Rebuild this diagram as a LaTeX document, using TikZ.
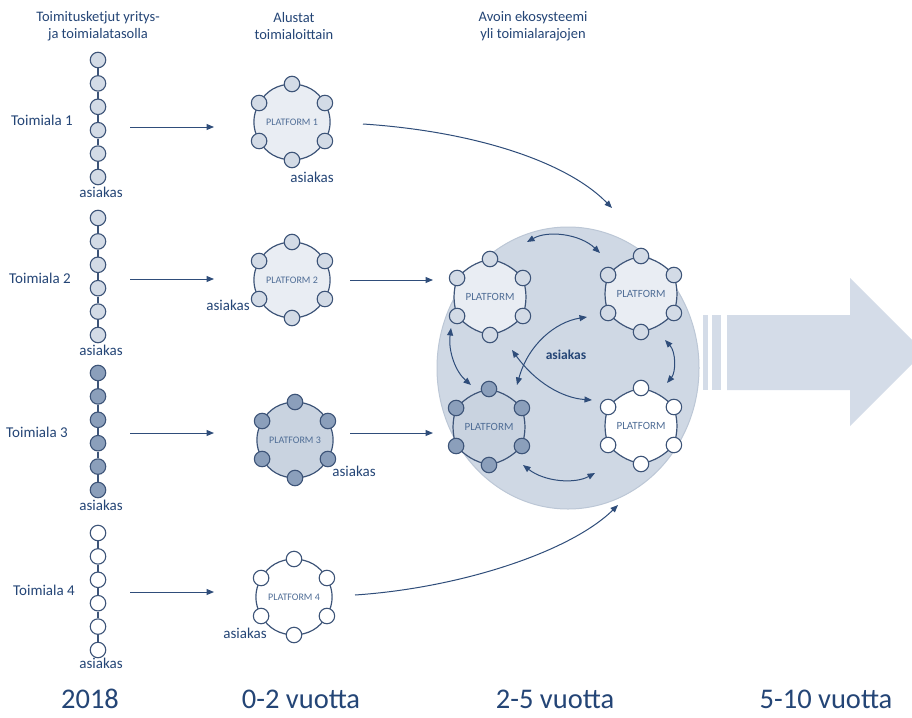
\documentclass[tikz,border=0pt]{standalone}
\usepackage{fontspec}
\setmainfont{Carlito}
\usetikzlibrary{arrows.meta,calc}
\definecolor{ln}{HTML}{3D5478}
\definecolor{tx}{HTML}{244576}
\definecolor{ar}{HTML}{2F4D7A}
\definecolor{lf}{HTML}{D3DBE6}
\definecolor{rl}{HTML}{E9EDF3}
\definecolor{df}{HTML}{8B9FBB}
\definecolor{rd}{HTML}{C9D3E0}
\definecolor{bc}{HTML}{CFD8E4}
\definecolor{bcb}{HTML}{BCC7D6}
\definecolor{af}{HTML}{D4DCE8}
\definecolor{pl}{HTML}{4F6D96}
\tikzset{
  sc/.style={circle, draw=ln, line width=1.1pt, minimum size=15.5pt, inner sep=0pt},
  link/.style={draw=ln, line width=1.1pt},
  ring/.style={draw=ln, line width=1.2pt},
  arr/.style={draw=ar, line width=1pt, -{Triangle[length=7.5pt,width=6pt]}},
  darr/.style={draw=ar, line width=1pt, {Triangle[length=7.5pt,width=6pt]}-{Triangle[length=7.5pt,width=6pt]}},
  lbl/.style={text=tx, font=\fontsize{15}{18}\selectfont, inner sep=0pt},
  hdr/.style={text=tx, font=\fontsize{14.5}{17}\selectfont, align=center, inner sep=0pt},
  year/.style={text=tx, font=\fontsize{28.5}{32}\selectfont, inner sep=0pt},
  platlbl/.style={text=pl, font=\fontsize{10}{12}\selectfont, inner sep=0pt},
}
\newcommand\platf[8]{%
  \coordinate (#1) at (#2,#3);
  \foreach \ang/\nm in {90/a,30/b,-30/c,-90/d,-150/e,150/f}{\coordinate (#1-\nm) at ($(#1)+(\ang:38)$);}
  \draw[ring, fill=#4] (#1-a) to[bend right=#7] (#1-b) to[bend right=#7] (#1-c) to[bend right=#7] (#1-d) to[bend right=#7] (#1-e) to[bend right=#7] (#1-f) to[bend right=#7] (#1-a) -- cycle;
  \node[platlbl, #8] (#1-t) at (#1) {#6};
  \foreach \nm in {a,b,c,d,e,f}{\node[sc, fill=#5] (#1-\nm c) at (#1-\nm) {};}
}
\newcommand\chain[3]{% name, start y, fill
  \foreach \i in {1,...,6}{\node[sc, fill=#3] (#1-\i) at (98,{#2+(\i-1)*23.4}) {};}
  \foreach \i [evaluate=\i as \j using int(\i+1)] in {1,...,5}{\draw[link] (#1-\i) -- (#1-\j);}
}
\begin{document}
\begin{tikzpicture}[x=1pt,y=-1pt]
\useasboundingbox (0,0) rectangle (912,717);
\fill[white] (0,0) rectangle (912,717);

% headers
\node[hdr] (h1) at (98,26) {Toimitusketjut yritys-\\ja toimialatasolla};
\node[hdr] (h2) at (294,26) {Alustat\\toimialoittain};
\node[hdr] (h3) at (533,26) {Avoin ekosysteemi\\yli toimialarajojen};

% chains
\chain{c1}{60}{lf}
\chain{c2}{218}{lf}
\chain{c3}{373}{df}
\chain{c4}{533}{white}
\node[lbl] (ca1) at (101,192) {asiakas};
\node[lbl] (ca2) at (101,350) {asiakas};
\node[lbl] (ca3) at (101,505) {asiakas};
\node[lbl] (ca4) at (101,663) {asiakas};

\node[lbl] (t1) at (42,120) {Toimiala 1};
\node[lbl] (t2) at (40,278) {Toimiala 2};
\node[lbl] (t3) at (37,432) {Toimiala 3};
\node[lbl] (t4) at (44,590) {Toimiala 4};

% arrows column 1 -> 2
\foreach \k/\yy in {1/127,2/279,3/433,4/592}{
  \coordinate (s\k) at (130,\yy); \coordinate (e\k) at (214,\yy);
  \draw[arr] (s\k) -- (e\k);
}

% column 2 platforms
\platf{P1}{292}{122}{rl}{lf}{PLATFORM 1}{28}{}
\platf{P2}{292}{280}{rl}{lf}{PLATFORM 2}{28}{}
\platf{P3}{295}{440}{rd}{df}{PLATFORM 3}{28}{}
\platf{P4}{294}{597}{white}{white}{PLATFORM 4}{28}{}
\node[lbl] (pa1) at (312,177) {asiakas};
\node[lbl] (pa2) at (228,305) {asiakas};
\node[lbl] (pa3) at (354,471) {asiakas};
\node[lbl] (pa4) at (245,633) {asiakas};

% big ecosystem circle
\draw[fill=bc, draw=bcb, line width=1pt] (568,368) ellipse [x radius=131, y radius=141];

% big arrow
\fill[af] (703,315) rectangle (708,390);
\fill[af] (712,315) rectangle (721,390);
\fill[af] (727,315) -- (850,315) -- (850,278) -- (924,352) -- (850,426) -- (850,390) -- (727,390) -- cycle;

% ecosystem platforms
\platf{E1}{490}{297}{rl}{lf}{PLATFORM}{16}{font=\fontsize{11}{13}\selectfont}
\platf{E2}{641}{294}{rl}{lf}{PLATFORM}{16}{font=\fontsize{11}{13}\selectfont}
\platf{E3}{489}{427}{rd}{df}{PLATFORM}{16}{font=\fontsize{11}{13}\selectfont}
\platf{E4}{641}{426}{white}{white}{PLATFORM}{16}{font=\fontsize{11}{13}\selectfont}
\node[lbl, font=\fontsize{13.5}{16}\selectfont\bfseries] (ea) at (566,355) {asiakas};

% arrows column 2 -> ecosystem
\coordinate (f1s) at (363,124); \coordinate (f1e) at (612,208);
\draw[arr] (f1s) .. controls (470,131) and (565,160) .. (f1e);
\coordinate (f2s) at (350,280); \coordinate (f2e) at (433,280);
\draw[arr] (f2s) -- (f2e);
\coordinate (f3s) at (350,433); \coordinate (f3e) at (433,433);
\draw[arr] (f3s) -- (f3e);
\coordinate (f4s) at (355,595); \coordinate (f4e) at (618,505);
\draw[arr] (f4s) .. controls (460,588) and (570,552) .. (f4e);

% double arrows inside ecosystem
\coordinate (d1a) at (527,242); \coordinate (d1b) at (600,253);
\draw[darr] (d1a) .. controls (548,230) and (580,234) .. (d1b);
\coordinate (d2a) at (451,328); \coordinate (d2b) at (471,385);
\draw[darr] (d2a) .. controls (448,352) and (456,372) .. (d2b);
\coordinate (d3a) at (665,340); \coordinate (d3b) at (667,383);
\draw[darr] (d3a) .. controls (676,352) and (676,372) .. (d3b);
\coordinate (d4a) at (523,465); \coordinate (d4b) at (595,473);
\draw[darr] (d4a) .. controls (545,482) and (575,484) .. (d4b);
\coordinate (d5a) at (517,385); \coordinate (d5b) at (587,317);
\draw[darr] (d5a) .. controls (528,345) and (555,322) .. (d5b);
\coordinate (d6a) at (512,350); \coordinate (d6b) at (592,400);
\draw[darr] (d6a) .. controls (535,382) and (562,398) .. (d6b);

% years
\node[year] (y1) at (90,699) {2018};
\node[year] (y2) at (301,699) {0-2 vuotta};
\node[year] (y3) at (555,699) {2-5 vuotta};
\node[year] (y4) at (826,699) {5-10 vuotta};
\end{tikzpicture}
\end{document}
